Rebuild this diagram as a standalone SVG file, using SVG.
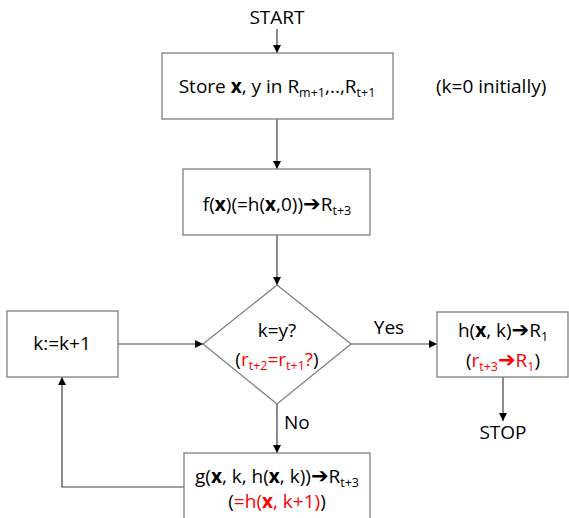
<svg xmlns="http://www.w3.org/2000/svg" width="569" height="518" viewBox="0 0 569 518">
<defs>
<marker id="ah" viewBox="0 0 10 10" refX="10" refY="5" markerWidth="8" markerHeight="8" markerUnits="userSpaceOnUse" orient="auto">
<path d="M0,0 L10,5 L0,10 z" fill="#000"/>
</marker>
<style>
.box{fill:#fff;stroke:#7f7f7f;stroke-width:1.3}
.t{font-family:"Open Sans","Liberation Sans",sans-serif;font-size:19px;fill:#000}
.c{text-anchor:middle}
.b{font-weight:bold}
.r{fill:#ff0000}
.s{font-size:12.5px}
.ar{font-family:"DejaVu Sans",sans-serif;font-weight:bold;font-size:21px}
.ln{fill:none;stroke:#404040;stroke-width:1.2}
</style>
</defs>
<rect width="569" height="518" fill="#fff"/>
<g id="connectors">
<line class="ln" x1="277" y1="29" x2="277" y2="53" marker-end="url(#ah)"/>
<line class="ln" x1="277" y1="119" x2="277" y2="169" marker-end="url(#ah)"/>
<line class="ln" x1="277" y1="235" x2="277" y2="285" marker-end="url(#ah)"/>
<line class="ln" x1="118" y1="344" x2="203" y2="344" marker-end="url(#ah)"/>
<line class="ln" x1="351" y1="344" x2="437" y2="344" marker-end="url(#ah)"/>
<line class="ln" x1="503" y1="377" x2="503" y2="421" marker-end="url(#ah)"/>
<line class="ln" x1="277" y1="404" x2="277" y2="453" marker-end="url(#ah)"/>
<polyline class="ln" points="184,487 62,487 62,377" marker-end="url(#ah)"/>
<text class="t c" x="389" y="334">Yes</text>
<text class="t" x="284" y="429">No</text>
</g>
<g id="start"><text class="t c" x="277" y="24">START</text></g>
<g id="store">
<rect class="box" x="162" y="53" width="231" height="66"/>
<text class="t c" x="277" y="93">Store <tspan class="b">x</tspan>, y in R<tspan class="s" dy="4">m+1</tspan><tspan dy="-4">,..,R</tspan><tspan class="s" dy="4">t+1</tspan></text>
</g>
<g id="note"><text class="t" x="436" y="93">(k=0 initially)</text></g>
<g id="fx">
<rect class="box" x="183" y="169" width="187" height="66"/>
<text class="t c" x="277" y="211">f(<tspan class="b">x</tspan>)(=h(<tspan class="b">x</tspan>,0))<tspan class="ar">➔</tspan>R<tspan class="s" dy="4">t+3</tspan></text>
</g>
<g id="decision">
<polygon class="box" points="277,285 351,344 277,404 203,344"/>
<text class="t c" x="277" y="337">k=y?</text>
<text class="t c" x="277" y="366">(<tspan class="r">r<tspan class="s" dy="4">t+2</tspan><tspan dy="-4">=r</tspan><tspan class="s" dy="4">t+1</tspan><tspan dy="-4">?</tspan></tspan>)</text>
</g>
<g id="inc">
<rect class="box" x="7" y="311" width="111" height="66"/>
<text class="t c" x="62" y="350">k:=k+1</text>
</g>
<g id="result">
<rect class="box" x="437" y="312" width="131" height="65"/>
<text class="t c" x="503" y="337">h(<tspan class="b">x</tspan>, k)<tspan class="ar">➔</tspan>R<tspan class="s" dy="4">1</tspan></text>
<text class="t c" x="503" y="367">(<tspan class="r">r<tspan class="s" dy="4">t+3</tspan><tspan class="ar" dy="-4">➔</tspan>R<tspan class="s" dy="4">1</tspan></tspan><tspan dy="-4">)</tspan></text>
</g>
<g id="stop"><text class="t c" x="503" y="439">STOP</text></g>
<g id="gbox">
<rect class="box" x="184" y="453" width="186" height="80"/>
<text class="t c" x="277" y="483">g(<tspan class="b">x</tspan>, k, h(<tspan class="b">x</tspan>, k))<tspan class="ar">➔</tspan>R<tspan class="s" dy="4">t+3</tspan></text>
<text class="t c" x="277" y="508">(<tspan class="r">=h(<tspan class="b">x</tspan>, k+1)</tspan>)</text>
</g>
</svg>
